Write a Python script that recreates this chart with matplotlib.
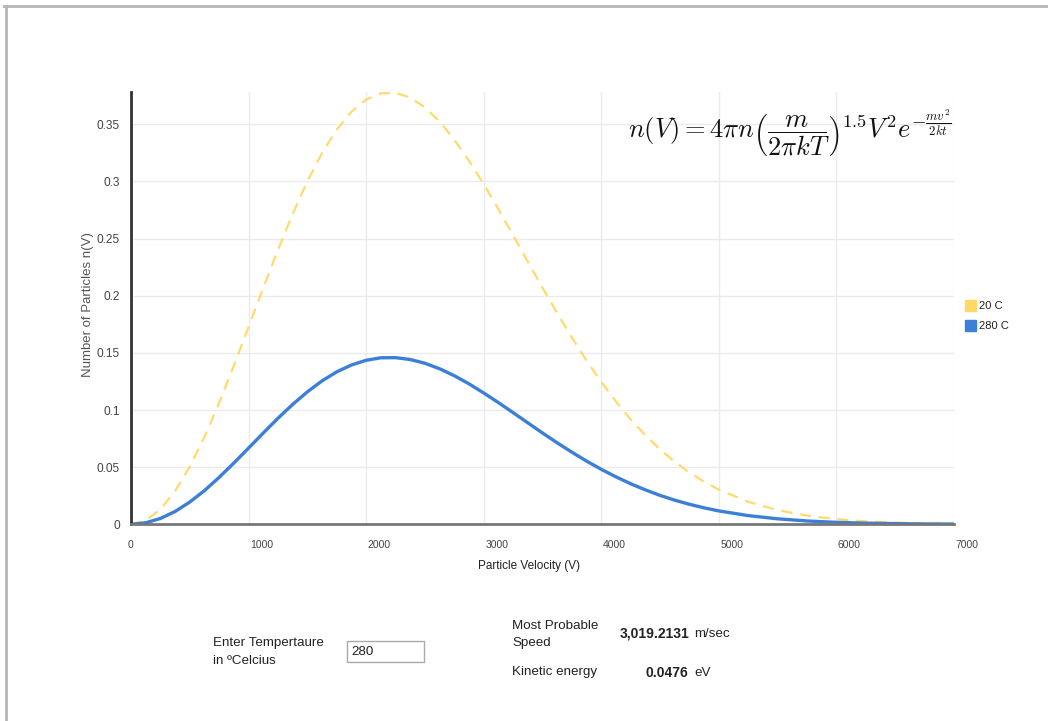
import matplotlib.pyplot as plt
import matplotlib.transforms as mtransforms
from matplotlib.patches import Rectangle
from matplotlib.lines import Line2D

plt.rcParams['font.family'] = ['Liberation Sans', 'DejaVu Sans']
plt.rcParams['mathtext.fontset'] = 'cm'

# Data
velocity = [0, 125, 250, 375, 500, 625, 750, 875, 1000, 1125, 1250, 1375, 1500,
            1625, 1750, 1875, 2000, 2125, 2250, 2375, 2500, 2625, 2750, 2875,
            3000, 3125, 3250, 3375, 3500, 3625, 3750, 3875, 4000, 4125, 4250,
            4375, 4500, 4625, 4750, 4875, 5000, 5250, 5500, 5750, 6000, 6250,
            6500, 6750, 7000]
n_20c = [0, 0.0033, 0.0131, 0.0290, 0.0504, 0.0765, 0.1063, 0.1388, 0.1727,
         0.2069, 0.2402, 0.2716, 0.3001, 0.3249, 0.3453, 0.3610, 0.3716, 0.3771,
         0.3776, 0.3734, 0.3648, 0.3523, 0.3365, 0.3181, 0.2976, 0.2757, 0.2529,
         0.2298, 0.2070, 0.1847, 0.1634, 0.1432, 0.1246, 0.1074, 0.0918, 0.0779,
         0.0655, 0.0547, 0.0453, 0.0372, 0.0303, 0.0197, 0.0124, 0.0076, 0.0045,
         0.0026, 0.0015, 0.0008, 0.0004]
n_280c = [0, 0.0013, 0.0051, 0.0112, 0.0195, 0.0295, 0.0411, 0.0536, 0.0667,
          0.0799, 0.0928, 0.1049, 0.1159, 0.1255, 0.1334, 0.1394, 0.1435, 0.1457,
          0.1458, 0.1442, 0.1409, 0.1361, 0.1300, 0.1229, 0.1149, 0.1065, 0.0977,
          0.0888, 0.0799, 0.0713, 0.0631, 0.0553, 0.0481, 0.0415, 0.0355, 0.0301,
          0.0253, 0.0211, 0.0175, 0.0144, 0.0117, 0.0076, 0.0048, 0.0029, 0.0017,
          0.0010, 0.0006, 0.0003, 0.0002]
series_labels = ["20 C", "280 C"]
x_ticks = [0, 1000, 2000, 3000, 4000, 5000, 6000, 7000]
y_ticks = [0, 0.05, 0.1, 0.15, 0.2, 0.25, 0.3, 0.35]
y_tick_labels = ["0", "0.05", "0.1", "0.15", "0.2", "0.25", "0.3", "0.35"]

W, H = 1048, 721
fig = plt.figure(figsize=(W / 100, H / 100), dpi=100)

def fx(px):
    return px / W

def fy(py):
    return 1 - py / H

# page frame (top and left edges)
fig.add_artist(Line2D([fx(4), 1], [fy(6), fy(6)], color="#b5b5b5", lw=2))
fig.add_artist(Line2D([fx(6), fx(6)], [fy(6), 0], color="#b5b5b5", lw=2))

ax = fig.add_axes([fx(131), fy(524.3), fx(954) - fx(131), fy(92.3) - fy(524.3)])
yellow = "#ffd966"
blue = "#3c7fd8"
ax.plot(velocity, n_20c, color=yellow, lw=1.6, ls=(0, (5, 3.5)), alpha=0.95)
ax.plot(velocity, n_280c, color=blue, lw=2.4)

ax.set_xlim(0, 7000)
ax.set_ylim(0, 0.378)
ax.set_xticks(x_ticks)
ax.set_xticklabels([str(t) for t in x_ticks])
ax.set_yticks(y_ticks)
ax.set_yticklabels(y_tick_labels)
ax.tick_params(length=0, labelcolor="#444444")
ax.tick_params(axis="y", pad=8, labelsize=8.6)
ax.tick_params(axis="x", pad=11, labelsize=7.5)
ax.grid(True, color="#ebebeb", lw=1)
ax.set_axisbelow(True)
for s in ["top", "right"]:
    ax.spines[s].set_visible(False)
ax.spines["left"].set_color("#333333")
ax.spines["left"].set_linewidth(2)
ax.spines["bottom"].set_color("#777777")
ax.spines["bottom"].set_linewidth(2)

# google-style label shift for ticks after the origin
for i, lbl in enumerate(ax.get_xticklabels()):
    if i > 0:
        lbl.set_transform(lbl.get_transform() +
                          mtransforms.ScaledTranslation(13 / 100, 0, fig.dpi_scale_trans))

fig.text(fx(529), fy(566), "Particle Velocity (V)", ha="center", va="center",
         fontsize=8.5, color="#222222")
fig.text(fx(88), fy(305), "Number of Particles n(V)", ha="center", va="center",
         rotation=90, fontsize=9.5, color="#555555")

# formula
fig.text(fx(951), fy(133), r"$n(V) = 4\pi n\left(\dfrac{m}{2\pi kT}\right)^{1.5} V^2 e^{-\frac{mv^2}{2kt}}$",
         ha="right", va="center", fontsize=19, color="#111111")

# legend
for i, (lab, col) in enumerate(zip(series_labels, [yellow, blue])):
    y = 306 + 20 * i
    fig.add_artist(Rectangle((fx(965), fy(y + 5)), fx(11), fy(0) - fy(11),
                             color=col, transform=fig.transFigure))
    fig.text(fx(979), fy(y), lab, ha="left", va="center", fontsize=8, color="#222222")

# controls below the chart
txt = dict(ha="left", va="center", fontsize=9.6, color="#222222")
fig.text(fx(213), fy(643), "Enter Tempertaure", **txt)
fig.text(fx(213), fy(661), "in \u00baCelcius", **txt)
fig.add_artist(Rectangle((fx(347), fy(662)), fx(424) - fx(347), fy(641) - fy(662),
                         facecolor="white", edgecolor="#a9a9a9", lw=1, transform=fig.transFigure))
fig.text(fx(351), fy(652), "280", **txt)

fig.text(fx(512), fy(626), "Most Probable", **txt)
fig.text(fx(512), fy(643), "Speed", **txt)
fig.text(fx(620), fy(634), "3,019.2131", ha="left", va="center", fontsize=10,
         fontweight="bold", color="#222222")
fig.text(fx(694), fy(634), "m/sec", **txt)
fig.text(fx(512), fy(672), "Kinetic energy", **txt)
fig.text(fx(645), fy(673), "0.0476", ha="left", va="center", fontsize=10,
         fontweight="bold", color="#222222")
fig.text(fx(694), fy(673), "eV", **txt)

fig.savefig("out.png", dpi=100)
